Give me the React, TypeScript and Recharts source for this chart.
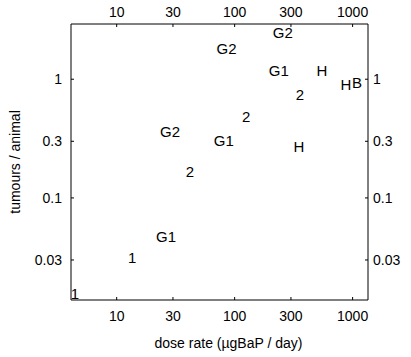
import { ScatterChart, Scatter, XAxis, YAxis } from "recharts";

// point labels, dose rate (µgBaP/day), tumours per animal
const labels = ["G2", "G2", "G1", "H", "H", "B", "2", "2", "G2", "G1", "H", "2", "G1", "1", "1"];
const doseRates = [256, 85.5, 237, 550, 877, 1087, 357, 125, 28.3, 81, 351, 41.8, 26.2, 13.5, 4.43];
const tumoursPerAnimal = [2.47, 1.83, 1.19, 1.19, 0.895, 0.93, 0.738, 0.482, 0.361, 0.306, 0.27, 0.166, 0.0473, 0.0315, 0.0157];

const xTicks = [10, 30, 100, 300, 1000];
const yTicks = [0.03, 0.1, 0.3, 1];
const xDomain = [4.1, 1350];
const yDomain = [0.0138, 2.92];

const data = labels.map((label, i) => ({ label, dose: doseRates[i], rate: tumoursPerAnimal[i] }));

const FONT = "'Liberation Sans', Arial, sans-serif";

// ticks point inward, labels sit outside the frame
const BottomTick = ({ x, y, payload }: any) => (
  <g>
    <line x1={x} x2={x} y1={y} y2={y - 3} stroke="#000" />
    <text x={x} y={y + 16} textAnchor="middle" dominantBaseline="central" fontSize={14} fill="#000">
      {payload.value}
    </text>
  </g>
);

const TopTick = ({ x, y, payload }: any) => (
  <g>
    <line x1={x} x2={x} y1={y} y2={y + 3} stroke="#000" />
    <text x={x} y={y - 12} textAnchor="middle" dominantBaseline="central" fontSize={14} fill="#000">
      {payload.value}
    </text>
  </g>
);

const LeftTick = ({ x, y, payload }: any) => (
  <g>
    <line x1={x} x2={x + 3} y1={y} y2={y} stroke="#000" />
    <text x={x - 9} y={y} textAnchor="end" dominantBaseline="central" fontSize={14} fill="#000">
      {payload.value}
    </text>
  </g>
);

const RightTick = ({ x, y, payload }: any) => (
  <g>
    <line x1={x} x2={x - 3} y1={y} y2={y} stroke="#000" />
    <text x={x + 5} y={y} textAnchor="start" dominantBaseline="central" fontSize={14} fill="#000">
      {payload.value}
    </text>
  </g>
);

const YTitle = ({ viewBox }: any) => {
  const cx = viewBox.x + 15;
  const cy = viewBox.y + viewBox.height / 2;
  return (
    <text x={cx} y={cy} transform={`rotate(-90 ${cx} ${cy})`} textAnchor="middle" dominantBaseline="central" fontSize={14} fill="#000">
      tumours / animal
    </text>
  );
};

const XTitle = ({ viewBox }: any) => {
  const cx = viewBox.x + viewBox.width / 2 + 9;
  const cy = viewBox.y + 43;
  return (
    <text x={cx} y={cy} textAnchor="middle" dominantBaseline="central" fontSize={14} fill="#000">
      dose rate (µgBaP / day)
    </text>
  );
};

const LabelMark = ({ cx, cy, payload }: any) => (
  <text x={cx} y={cy} textAnchor="middle" dominantBaseline="central" fontSize={15} fill="#000">
    {payload.label}
  </text>
);

export default function App() {
  return (
    <div style={{ position: "absolute", left: 0, top: 0, width: 411, height: 357, background: "#fff", fontFamily: FONT }}>
      <ScatterChart width={411} height={357} margin={{ top: 0, right: 0, bottom: 0, left: 0 }}>
        <XAxis
          xAxisId="bottom"
          dataKey="dose"
          type="number"
          scale="log"
          domain={xDomain}
          ticks={xTicks}
          allowDataOverflow
          orientation="bottom"
          height={57}
          tickSize={0}
          tickMargin={0}
          tickLine={false}
          tick={<BottomTick />}
          axisLine={{ stroke: "#000" }}
          label={{ content: <XTitle /> }}
        />
        <XAxis
          xAxisId="top"
          dataKey="dose"
          type="number"
          scale="log"
          domain={xDomain}
          ticks={xTicks}
          allowDataOverflow
          orientation="top"
          height={24}
          tickSize={0}
          tickMargin={0}
          tickLine={false}
          tick={<TopTick />}
          axisLine={{ stroke: "#000" }}
        />
        <YAxis
          yAxisId="left"
          dataKey="rate"
          type="number"
          scale="log"
          domain={yDomain}
          ticks={yTicks}
          allowDataOverflow
          orientation="left"
          width={71}
          tickSize={0}
          tickMargin={0}
          tickLine={false}
          tick={<LeftTick />}
          axisLine={{ stroke: "#000" }}
          label={{ content: <YTitle /> }}
        />
        <YAxis
          yAxisId="right"
          dataKey="rate"
          type="number"
          scale="log"
          domain={yDomain}
          ticks={yTicks}
          allowDataOverflow
          orientation="right"
          width={43}
          tickSize={0}
          tickMargin={0}
          tickLine={false}
          tick={<RightTick />}
          axisLine={{ stroke: "#000" }}
        />
        <Scatter data={data} xAxisId="bottom" yAxisId="left" shape={<LabelMark />} isAnimationActive={false} />
      </ScatterChart>
    </div>
  );
}
